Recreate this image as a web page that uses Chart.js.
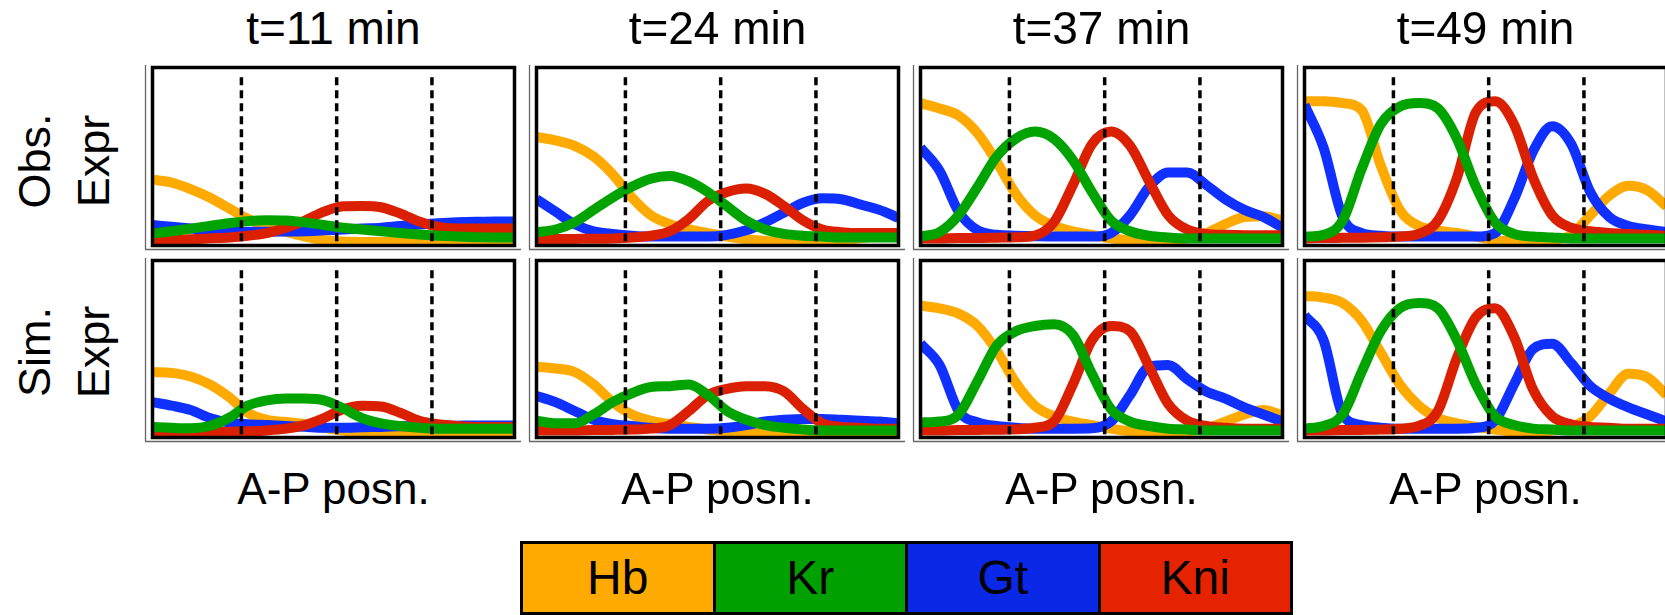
<!DOCTYPE html>
<html>
<head>
<meta charset="utf-8">
<title>Gap gene expression</title>
<script src="https://cdn.jsdelivr.net/npm/chart.js@4.4.1/dist/chart.umd.min.js"></script>
<style>
  html, body { margin: 0; padding: 0; background: #fff; overflow: hidden; }
  body { width: 1665px; height: 615px; position: relative; color: #000;
         font-family: "Liberation Sans", Arial, Helvetica, sans-serif; }
  canvas { position: absolute; }
  .title, .xlabel { position: absolute; width: 365px; text-align: center; white-space: nowrap; }
  .title { font-size: 46px; line-height: 46px; }
  .xlabel { font-size: 44px; line-height: 44px; }
  .rowlabel { position: absolute; width: 120px; height: 118px; text-align: center; font-size: 45px;
              line-height: 59px; transform: rotate(-90deg); white-space: nowrap; }
  #legend { position: absolute; left: 520px; top: 541px; width: 773px; height: 74px;
            border: 3px solid #000; box-sizing: border-box; display: flex; }
  #legend div { flex: 1; text-align: center; font-size: 48px; line-height: 68px; border-right: 3px solid #000; }
  #legend div:last-child { border-right: none; }
</style>
</head>
<body>
<div id="legend"></div>
<script>
// A-P position of each sample (% egg length) and the dashed reference positions
const apPos = [35, 38, 41, 44, 47, 50, 53, 56, 59, 62, 65, 68, 71, 74, 77, 80, 83, 86, 89, 92];
const dashPos = [49, 64, 79];
const dashTop = 0.945;

const times = ['t=11 min', 't=24 min', 't=37 min', 't=49 min'];
const rowNames = [['Obs.', 'Expr'], ['Sim.', 'Expr']];
const genes = ['Hb', 'Kr', 'Gt', 'Kni'];
const lineColors = ['rgb(255,170,0)', 'rgb(0,163,0)', 'rgb(16,48,255)', 'rgb(218,32,0)'];
const legendColors = ['rgb(255,170,0)', 'rgb(0,160,0)', 'rgb(10,40,230)', 'rgb(230,35,0)'];

// observed expression, one row per time point
const obsHb = [
  [0.37, 0.354, 0.317, 0.27, 0.21, 0.15, 0.105, 0.077, 0.05, 0.031, 0.022, 0.02, 0.02, 0.02, 0.02, 0.02, 0.02, 0.02, 0.02, 0.02],
  [0.61, 0.59, 0.56, 0.50, 0.40, 0.27, 0.17, 0.12, 0.09, 0.07, 0.05, 0.035, 0.025, 0.02, 0.02, 0.025, 0.03, 0.04, 0.055, 0.07],
  [0.80, 0.77, 0.73, 0.63, 0.47, 0.29, 0.17, 0.11, 0.08, 0.06, 0.04, 0.03, 0.025, 0.03, 0.04, 0.07, 0.12, 0.16, 0.165, 0.14],
  [0.81, 0.81, 0.80, 0.76, 0.45, 0.20, 0.11, 0.085, 0.07, 0.05, 0.03, 0.025, 0.025, 0.03, 0.06, 0.17, 0.28, 0.335, 0.31, 0.22]
];
const obsKr = [
  [0.068, 0.08, 0.095, 0.11, 0.125, 0.137, 0.142, 0.14, 0.13, 0.115, 0.10, 0.09, 0.08, 0.07, 0.062, 0.055, 0.05, 0.047, 0.045, 0.045],
  [0.075, 0.09, 0.13, 0.2, 0.27, 0.33, 0.375, 0.39, 0.36, 0.3, 0.22, 0.14, 0.09, 0.065, 0.055, 0.05, 0.045, 0.045, 0.045, 0.045],
  [0.05, 0.075, 0.17, 0.33, 0.5, 0.6, 0.64, 0.6, 0.48, 0.3, 0.14, 0.08, 0.055, 0.045, 0.04, 0.04, 0.04, 0.04, 0.04, 0.04],
  [0.05, 0.06, 0.14, 0.43, 0.68, 0.78, 0.8, 0.77, 0.6, 0.33, 0.13, 0.065, 0.05, 0.045, 0.04, 0.04, 0.04, 0.04, 0.04, 0.04]
];
const obsGt = [
  [0.115, 0.105, 0.095, 0.085, 0.08, 0.077, 0.077, 0.078, 0.08, 0.085, 0.09, 0.095, 0.1, 0.11, 0.118, 0.125, 0.13, 0.133, 0.135, 0.135],
  [0.26, 0.19, 0.12, 0.08, 0.065, 0.055, 0.05, 0.05, 0.05, 0.05, 0.06, 0.085, 0.13, 0.185, 0.24, 0.265, 0.26, 0.23, 0.2, 0.155],
  [0.55, 0.42, 0.19, 0.085, 0.06, 0.055, 0.052, 0.05, 0.05, 0.05, 0.07, 0.17, 0.33, 0.41, 0.41, 0.34, 0.26, 0.2, 0.16, 0.1],
  [0.79, 0.55, 0.16, 0.07, 0.055, 0.05, 0.05, 0.05, 0.05, 0.05, 0.07, 0.26, 0.53, 0.67, 0.57, 0.3, 0.16, 0.11, 0.09, 0.075]
];
const obsKni = [
  [0.03, 0.032, 0.035, 0.04, 0.045, 0.055, 0.07, 0.1, 0.14, 0.19, 0.22, 0.222, 0.215, 0.18, 0.135, 0.105, 0.095, 0.095, 0.095, 0.095],
  [0.035, 0.036, 0.037, 0.038, 0.04, 0.045, 0.055, 0.08, 0.15, 0.25, 0.3, 0.32, 0.29, 0.22, 0.14, 0.09, 0.075, 0.07, 0.07, 0.07],
  [0.04, 0.04, 0.042, 0.042, 0.044, 0.046, 0.055, 0.13, 0.34, 0.57, 0.64, 0.56, 0.36, 0.17, 0.09, 0.065, 0.06, 0.058, 0.058, 0.058],
  [0.04, 0.042, 0.043, 0.044, 0.046, 0.05, 0.065, 0.14, 0.38, 0.75, 0.81, 0.68, 0.38, 0.17, 0.1, 0.08, 0.07, 0.065, 0.06, 0.055]
];

// simulated expression
const simHb = [
  [0.37, 0.365, 0.345, 0.3, 0.23, 0.14, 0.1, 0.088, 0.075, 0.055, 0.04, 0.03, 0.025, 0.02, 0.02, 0.02, 0.02, 0.02, 0.02, 0.02],
  [0.4, 0.39, 0.37, 0.3, 0.2, 0.13, 0.095, 0.075, 0.06, 0.045, 0.035, 0.03, 0.025, 0.02, 0.02, 0.02, 0.02, 0.02, 0.02, 0.02],
  [0.745, 0.73, 0.7, 0.63, 0.49, 0.31, 0.18, 0.12, 0.09, 0.07, 0.05, 0.035, 0.03, 0.03, 0.035, 0.05, 0.09, 0.13, 0.155, 0.125],
  [0.8, 0.79, 0.76, 0.66, 0.48, 0.3, 0.18, 0.11, 0.08, 0.06, 0.045, 0.035, 0.035, 0.04, 0.06, 0.12, 0.25, 0.36, 0.34, 0.24]
];
const simKr = [
  [0.06, 0.055, 0.052, 0.065, 0.11, 0.18, 0.21, 0.22, 0.22, 0.21, 0.165, 0.11, 0.08, 0.065, 0.055, 0.05, 0.05, 0.05, 0.05, 0.05],
  [0.095, 0.08, 0.08, 0.13, 0.2, 0.25, 0.285, 0.29, 0.3, 0.24, 0.15, 0.1, 0.07, 0.055, 0.045, 0.04, 0.04, 0.04, 0.04, 0.04],
  [0.085, 0.09, 0.13, 0.32, 0.52, 0.6, 0.63, 0.64, 0.58, 0.36, 0.16, 0.09, 0.065, 0.05, 0.045, 0.04, 0.04, 0.04, 0.04, 0.04],
  [0.05, 0.065, 0.13, 0.37, 0.6, 0.73, 0.76, 0.73, 0.55, 0.3, 0.12, 0.07, 0.05, 0.045, 0.04, 0.04, 0.04, 0.04, 0.04, 0.04]
];
const simGt = [
  [0.2, 0.18, 0.155, 0.11, 0.085, 0.075, 0.07, 0.065, 0.06, 0.055, 0.055, 0.058, 0.06, 0.063, 0.065, 0.066, 0.067, 0.068, 0.068, 0.068],
  [0.235, 0.2, 0.15, 0.1, 0.075, 0.065, 0.055, 0.05, 0.05, 0.05, 0.055, 0.07, 0.09, 0.1, 0.105, 0.105, 0.1, 0.095, 0.09, 0.08],
  [0.53, 0.41, 0.15, 0.085, 0.065, 0.055, 0.05, 0.05, 0.05, 0.052, 0.09, 0.24, 0.4, 0.41, 0.33, 0.26, 0.22, 0.17, 0.13, 0.09],
  [0.69, 0.55, 0.13, 0.07, 0.055, 0.05, 0.05, 0.05, 0.05, 0.055, 0.095, 0.3, 0.5, 0.53, 0.42, 0.29, 0.22, 0.17, 0.13, 0.09]
];
const simKni = [
  [0.028, 0.028, 0.029, 0.03, 0.032, 0.035, 0.04, 0.05, 0.07, 0.11, 0.16, 0.18, 0.175, 0.14, 0.095, 0.075, 0.065, 0.06, 0.06, 0.06],
  [0.04, 0.04, 0.04, 0.042, 0.043, 0.045, 0.05, 0.07, 0.15, 0.24, 0.275, 0.29, 0.29, 0.26, 0.16, 0.08, 0.06, 0.055, 0.05, 0.05],
  [0.04, 0.04, 0.042, 0.043, 0.044, 0.046, 0.055, 0.09, 0.3, 0.55, 0.63, 0.6, 0.4, 0.19, 0.095, 0.065, 0.055, 0.05, 0.05, 0.05],
  [0.04, 0.04, 0.042, 0.043, 0.045, 0.05, 0.065, 0.15, 0.45, 0.68, 0.73, 0.57, 0.27, 0.12, 0.075, 0.06, 0.055, 0.05, 0.05, 0.05]
];

const rowData = [[obsHb, obsKr, obsGt, obsKni], [simHb, simKr, simGt, simKni]];

// page layout (px)
const panelLeft = [151, 535, 919, 1303];
const rowTop = [66, 259];
const rowHeight = [181, 180];
const boxWidth = 365;

// thick frame round the plot area + thin grey axis lines just outside it
const framePlugin = {
  id: 'frame',
  afterDraw(chart) {
    const { left, right, top, bottom } = chart.chartArea;
    const c = chart.ctx;
    c.save();
    c.strokeStyle = '#666';
    c.lineWidth = 1.3;
    c.beginPath();
    c.moveTo(left - 7, top - 2.5);
    c.lineTo(left - 7, bottom + 4);
    c.moveTo(left - 7.5, bottom + 4);
    c.lineTo(right + 6.5, bottom + 4);
    c.stroke();
    c.strokeStyle = '#000';
    c.lineWidth = 3.5;
    c.strokeRect(left, top, right - left, bottom - top);
    c.restore();
  }
};

function makePanel(r, t) {
  const canvas = document.createElement('canvas');
  canvas.width = boxWidth + 24;
  canvas.height = rowHeight[r] + 12;
  canvas.style.left = (panelLeft[t] - 12) + 'px';
  canvas.style.top = (rowTop[r] - 6) + 'px';
  document.body.appendChild(canvas);

  const datasets = [];
  // dashed markers drawn on top of the curves
  dashPos.forEach(d => {
    datasets.push({
      data: [{ x: d, y: dashTop }, { x: d, y: 0 }],
      borderColor: '#000',
      borderWidth: 3.5,
      borderDash: [8, 5],
      order: 0
    });
  });
  // stacking order: Kr on top, then Kni, Gt, Hb underneath
  const geneOrder = [4, 1, 3, 2];
  genes.forEach((g, i) => {
    const vals = rowData[r][i][t];
    datasets.push({
      label: g,
      data: apPos.map((x, k) => ({ x: x, y: vals[k] })),
      borderColor: lineColors[i],
      borderWidth: 10,
      cubicInterpolationMode: 'monotone',
      order: geneOrder[i]
    });
  });

  new Chart(canvas, {
    type: 'line',
    data: { datasets: datasets },
    options: {
      responsive: false,
      animation: false,
      devicePixelRatio: 1,
      layout: { padding: { left: 13.5, right: 13.5, top: 7.5, bottom: 7.5 } },
      elements: { point: { radius: 0 } },
      plugins: { legend: { display: false }, tooltip: { enabled: false } },
      scales: {
        x: { type: 'linear', min: 35, max: 92, display: false },
        y: { min: 0, max: 1, display: false }
      }
    },
    plugins: [framePlugin]
  });
}

for (let r = 0; r < 2; r++) {
  for (let t = 0; t < 4; t++) {
    makePanel(r, t);
  }
}

// titles and axis labels
times.forEach((txt, t) => {
  const el = document.createElement('div');
  el.className = 'title';
  el.textContent = txt;
  el.style.left = panelLeft[t] + 'px';
  el.style.top = '5px';
  document.body.appendChild(el);

  const xl = document.createElement('div');
  xl.className = 'xlabel';
  xl.textContent = 'A-P posn.';
  xl.style.left = panelLeft[t] + 'px';
  xl.style.top = '467px';
  document.body.appendChild(xl);
});

const rowCenterY = [161, 352];
rowNames.forEach((lines, r) => {
  const el = document.createElement('div');
  el.className = 'rowlabel';
  el.innerHTML = lines[0] + '<br>' + lines[1];
  el.style.left = (64 - 60) + 'px';
  el.style.top = (rowCenterY[r] - 59) + 'px';
  document.body.appendChild(el);
});

// colour key
const legend = document.getElementById('legend');
genes.forEach((g, i) => {
  const cell = document.createElement('div');
  cell.textContent = g;
  cell.style.background = legendColors[i];
  legend.appendChild(cell);
});
</script>
</body>
</html>
